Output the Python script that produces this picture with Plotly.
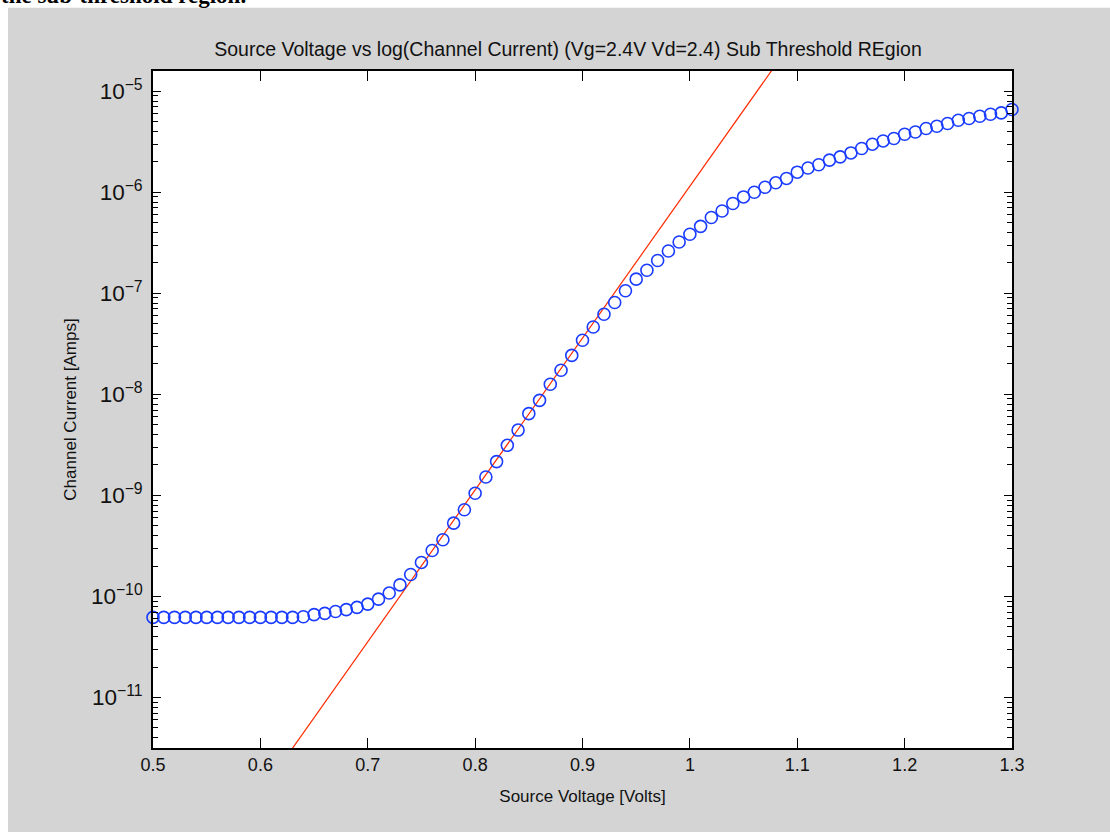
import plotly.graph_objects as go
import numpy as np

# ---- data ----
source_voltage = [round(0.50 + 0.01 * i, 2) for i in range(81)]
channel_current = [
    6.2e-11, 6.2e-11, 6.2e-11, 6.2e-11, 6.2e-11, 6.2e-11, 6.2e-11, 6.2e-11,   # 0.50-0.57
    6.2e-11, 6.2e-11, 6.2e-11, 6.2e-11, 6.2e-11, 6.2e-11, 6.3e-11, 6.6e-11,   # 0.58-0.65
    6.8e-11, 7.1e-11, 7.4e-11, 7.8e-11, 8.4e-11, 9.4e-11, 1.08e-10, 1.30e-10,  # 0.66-0.73
    1.65e-10, 2.17e-10, 2.85e-10, 3.64e-10, 5.32e-10, 7.21e-10, 1.05e-9, 1.52e-9,  # 0.74-0.81
    2.16e-9, 3.13e-9, 4.43e-9, 6.44e-9, 8.72e-9, 1.26e-8, 1.73e-8, 2.43e-8,   # 0.82-0.89
    3.43e-8, 4.64e-8, 6.21e-8, 8.1e-8, 1.06e-7, 1.38e-7, 1.69e-7, 2.11e-7,    # 0.90-0.97
    2.62e-7, 3.22e-7, 3.84e-7, 4.60e-7, 5.62e-7, 6.53e-7, 7.73e-7, 8.99e-7,   # 0.98-1.05
    1.00e-6, 1.12e-6, 1.24e-6, 1.37e-6, 1.58e-6, 1.74e-6, 1.87e-6, 2.08e-6,   # 1.06-1.13
    2.24e-6, 2.45e-6, 2.71e-6, 2.99e-6, 3.22e-6, 3.40e-6, 3.75e-6, 3.95e-6,   # 1.14-1.21
    4.27e-6, 4.50e-6, 4.79e-6, 5.16e-6, 5.37e-6, 5.65e-6, 5.92e-6, 6.10e-6,   # 1.22-1.29
    6.59e-6,                                                                    # 1.30
]

# sub-threshold exponential fit: log10(I) = fit_intercept + fit_slope * V
fit_slope = 15.03        # decades per volt
fit_intercept = -20.97
fit_voltage = [0.5, 0.6, 0.7, 0.8, 0.9, 1.0, 1.1, 1.2, 1.3]
fit_current = [10 ** (fit_intercept + fit_slope * v) for v in fit_voltage]

title_text = "Source Voltage vs log(Channel Current) (Vg=2.4V Vd=2.4) Sub Threshold REgion"
x_title = "Source Voltage [Volts]"
y_title = "Channel Current [Amps]"
x_ticks = [0.5, 0.6, 0.7, 0.8, 0.9, 1, 1.1, 1.2, 1.3]
x_ticklabels = ["0.5", "0.6", "0.7", "0.8", "0.9", "1", "1.1", "1.2", "1.3"]

# ---- layout geometry ----
W, H = 1110, 832
L, R, T, B = 153, 98, 71, 84
PW, PH = W - L - R, H - T - B


def px_x(x):
    return (x - L) / PW


def px_y(y):
    return 1 - (y - T) / PH


FONT = "Liberation Sans, Arial, sans-serif"
GRAY = "#d4d4d4"
TXT = "#111111"

fig = go.Figure()
fig.add_trace(go.Scatter(
    x=fit_voltage, y=fit_current, mode="lines",
    line=dict(color="#ff2a00", width=1.2),
    showlegend=False, hoverinfo="skip",
))
fig.add_trace(go.Scatter(
    x=source_voltage, y=channel_current, mode="markers",
    marker=dict(symbol="circle-open", size=12, color="#1a3cff", line=dict(width=1.6, color="#1a3cff")),
    cliponaxis=False, showlegend=False,
))

axis_common = dict(
    showline=True, linecolor="black", linewidth=1.5, mirror="ticks",
    ticks="inside", tickcolor="black", tickwidth=1.2,
    showgrid=False, zeroline=False,
    tickfont=dict(family=FONT, size=18, color=TXT),
)

fig.update_xaxes(
    range=[0.5, 1.3], tickvals=x_ticks, ticktext=x_ticklabels, ticklen=10,
    title=dict(text=x_title, font=dict(family=FONT, size=17, color=TXT), standoff=16),
    **axis_common,
)
fig.update_yaxes(
    type="log", range=[-11.5, -4.8], dtick=1, exponentformat="power", ticklen=8,
    ticklabelstandoff=5,
    minor=dict(ticks="inside", ticklen=5, tickcolor="black", tickwidth=1, dtick="D1", showgrid=False),
    title=dict(text=y_title, font=dict(family=FONT, size=17, color=TXT), standoff=10),
    **axis_common,
)

fig.update_layout(
    width=W, height=H,
    margin=dict(l=L, r=R, t=T, b=B, autoexpand=False),
    paper_bgcolor=GRAY, plot_bgcolor="white",
    title=dict(text=title_text, x=568 / W, xanchor="center", y=1 - 49 / H, yanchor="middle",
               font=dict(family=FONT, size=19.5, color=TXT)),
    shapes=[
        dict(type="rect", xref="paper", yref="paper", x0=px_x(-5), x1=px_x(8), y0=px_y(840), y1=px_y(-5),
             fillcolor="white", line=dict(width=0), layer="above"),
        dict(type="rect", xref="paper", yref="paper", x0=px_x(-5), x1=px_x(1120), y0=px_y(7.7), y1=px_y(-5),
             fillcolor="white", line=dict(width=0), layer="above"),
    ],
    annotations=[
        dict(text="<b>the sub-threshold region.</b>", xref="paper", yref="paper",
             x=px_x(-1), y=px_y(10), xanchor="left", yanchor="bottom", showarrow=False,
             font=dict(family="Liberation Serif, Times New Roman, serif", size=23, color="black")),
    ],
)

fig.write_html("out.html")
